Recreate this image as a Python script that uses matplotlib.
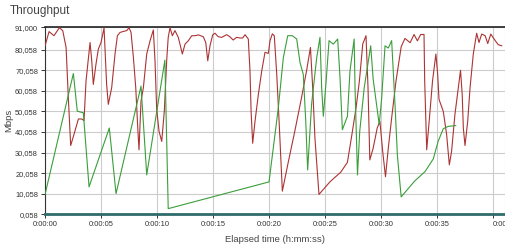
import matplotlib
matplotlib.use("Agg")
import matplotlib.pyplot as plt

plt.rcParams["font.family"] = ["Liberation Sans", "DejaVu Sans"]

# 経過時間 (秒) とスループット (Mbps)
red_t = [0.0, 0.36, 0.8, 1.28, 1.58, 1.88, 2.08, 2.29, 2.53, 2.98, 3.27, 3.48, 3.66,
         4.02, 4.17, 4.31, 4.55, 4.76, 5.0, 5.27, 5.5, 5.65, 5.95, 6.25, 6.46, 6.7,
         7.0, 7.3, 7.5, 7.68, 7.89, 8.1, 8.28, 8.39, 8.57, 8.78, 9.08, 9.38, 9.67,
         9.82, 9.97, 10.18, 10.42, 10.65, 10.87, 11.0, 11.16, 11.37, 11.6, 11.9,
         12.26, 12.5, 12.8, 13.1, 13.4, 13.7, 14.13, 14.35, 14.53, 14.73, 14.97,
         15.18, 15.47, 15.78, 16.22, 16.5, 16.8, 17.1, 17.4, 17.65, 17.86, 18.15,
         18.3, 18.4, 18.54, 18.75, 19.05, 19.35, 19.64, 19.94, 20.09, 20.3, 20.47,
         20.69, 20.9, 21.19, 21.73, 22.3, 22.9, 23.35, 23.7, 23.9, 24.1, 24.46,
         25.45, 26.4, 27.0, 27.4, 27.77, 28.07, 28.37, 28.66, 28.84, 29.0, 29.3,
         29.66, 29.9, 30.15, 30.4, 30.65, 30.95, 31.34, 31.8, 32.14, 32.6, 32.95,
         33.25, 33.54, 33.84, 33.9, 34.08, 34.3, 34.6, 34.9, 35.06, 35.18, 35.56,
         35.86, 36.1, 36.3, 36.6, 36.9, 37.1, 37.25, 37.35, 37.5, 37.74, 37.95,
         38.24, 38.54, 38.75, 38.99, 39.3, 39.53, 39.8, 40.2, 40.47, 40.78]
red_v = [82.0, 88.9, 86.9, 90.8, 89.4, 81.2, 56.7, 33.5, 37.9, 46.4, 46.4, 45.6, 64.9,
         83.6, 74.7, 63.2, 73.1, 80.4, 83.6, 90.7, 63.2, 53.5, 61.6, 78.0, 86.9, 88.5,
         89.0, 89.4, 90.8, 88.5, 76.3, 61.6, 42.0, 31.4, 55.1, 61.6, 78.0, 84.5, 89.7,
         74.7, 51.0, 40.4, 35.5, 50.2, 75.5, 86.1, 90.8, 86.9, 89.4, 86.1,
         78.0, 82.8, 84.5, 86.9, 86.9, 87.3, 86.4, 83.6, 74.7, 82.0, 87.3,
         88.1, 86.4, 86.1, 87.4, 86.4, 84.8, 86.1, 85.8, 85.8, 87.4, 85.3,
         69.8, 50.1, 34.6, 45.3, 58.4, 69.8, 78.8, 78.3, 84.5, 87.8, 86.9,
         68.1, 45.3, 11.3, 25.7, 40.4, 56.7, 69.8, 81.2, 61.6, 37.1, 9.7,
         15.9, 20.5, 25.3, 38.8, 51.8, 64.9, 82.9, 86.9, 61.6, 26.5, 32.2,
         42.0, 45.3, 30.6, 18.3, 32.2, 46.9, 64.9, 81.5, 85.6, 83.5, 87.5,
         84.4, 87.5, 87.5, 64.9, 31.4, 45.3, 64.9, 78.0, 68.1, 55.9, 50.1,
         38.8, 24.1, 30.6, 48.6, 61.6, 70.1, 58.3, 42.0, 33.5, 45.3, 61.6,
         78.0, 88.1, 83.6, 87.7, 86.9, 83.1, 87.7, 84.5, 82.5, 82.0]

green_t = [0.0, 2.53, 2.88, 3.42, 3.93, 5.74, 6.34, 8.57, 9.08, 10.7, 11.0, 20.0,
           20.83, 21.28, 21.67, 22.08, 22.47, 22.77, 23.06, 23.28, 23.45, 23.8,
           24.26, 24.55, 24.7, 24.85, 25.1, 25.36, 25.74, 26.13, 26.34, 26.55,
           27.0, 27.23, 27.6, 27.68, 27.9, 28.1, 28.5, 29.08, 29.3, 29.6, 29.84,
           30.06, 30.36, 30.65, 30.95, 31.25, 31.46, 31.8, 33.0, 33.93, 34.67,
           35.1, 35.56, 36.0, 36.67]
green_v = [9.7, 68.5, 50.2, 49.4, 13.4, 42.0, 10.1, 62.4, 19.2, 75.0, 2.8, 15.8,
           51.8, 76.3, 86.9, 86.9, 85.3, 73.8, 68.1, 45.3, 21.6, 53.5,
           76.3, 86.1, 61.6, 47.7, 64.9, 84.5, 82.8, 85.3, 66.5, 41.2,
           47.7, 69.8, 85.3, 61.6, 19.2, 40.4, 61.6, 82.0, 65.7, 53.5, 43.7,
           56.7, 82.0, 80.9, 84.5, 53.5, 28.9, 8.5, 16.2, 20.8, 27.0,
           35.5, 41.7, 42.8, 43.2]

y_ticks = [0.058, 10.058, 20.058, 30.058, 40.058, 50.058, 60.058, 70.058, 80.058, 91.0]
y_labels = ["0,058", "10,058", "20,058", "30,058", "40,058", "50,058",
            "60,058", "70,058", "80,058", "91,000"]
x_ticks = [0, 5, 10, 15, 20, 25, 30, 35, 40]
x_labels = ["0:00:00", "0:00:05", "0:00:10", "0:00:15", "0:00:20",
            "0:00:25", "0:00:30", "0:00:35", "0:00:40"]

fig = plt.figure(figsize=(5.06, 2.48), dpi=100)
ax = fig.add_axes([0.089, 0.136, 0.909, 0.754])

ax.plot(red_t, red_v, color="#ad3333", linewidth=0.8, zorder=3)
ax.plot(green_t, green_v, color="#3a9e3a", linewidth=0.8, zorder=3)

ax.set_xlim(0, 41.07)
ax.set_ylim(0.058, 91.0)
ax.set_yticks(y_ticks)
ax.set_yticklabels(y_labels)
ax.set_xticks(x_ticks)
ax.set_xticklabels(x_labels)
ax.tick_params(labelsize=5.4, labelcolor="#333333", length=3, width=0.7,
               color="#333333", pad=2)
# 最後の目盛ラベルは左寄せ (右端で切れる)
ax.get_xticklabels()[-1].set_horizontalalignment("left")
ax.grid(True, color="#cccccc", linewidth=0.8)
ax.set_axisbelow(True)

ax.spines["top"].set_color("#222222")
ax.spines["top"].set_linewidth(1.2)
ax.spines["left"].set_color("#333333")
ax.spines["left"].set_linewidth(0.8)
ax.spines["right"].set_color("#cccccc")
ax.spines["right"].set_linewidth(0.8)
ax.spines["bottom"].set_color("#2f6b6b")
ax.spines["bottom"].set_linewidth(2.0)

ax.set_xlabel("Elapsed time (h:mm:ss)", fontsize=6.8, color="#444444", labelpad=5)
ax.set_ylabel("Mbps", fontsize=6.8, color="#444444")
ax.yaxis.set_label_coords(-0.069, 0.5)

fig.text(0.02, 0.978, "Throughput", fontsize=8.5, color="#444444", va="top", ha="left")

fig.savefig("out.png", dpi=100)
